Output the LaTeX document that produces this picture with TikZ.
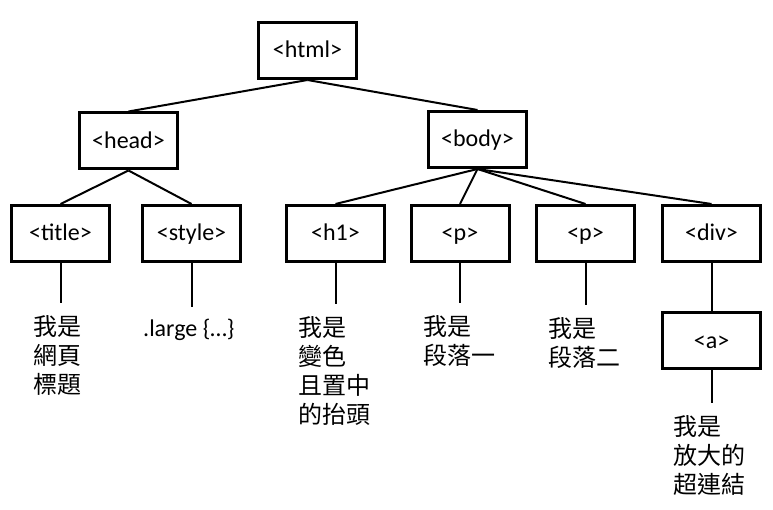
\documentclass[tikz,border=0pt]{standalone}
\usepackage{fontspec}
\setmainfont{Carlito}
\newfontfamily\cjk{Noto Sans CJK TC}
\begin{document}
\begin{tikzpicture}[x=1pt, y=-1pt,
    tag/.style={draw, line width=3pt, minimum width=98pt, minimum height=56pt,
                inner sep=0pt, text height=18pt, text depth=3pt,
                font=\fontsize{24}{29}\selectfont},
    leaf/.style={anchor=north west, align=left, inner xsep=0pt, inner ysep=12pt,
                 font=\cjk\fontsize{24}{29}\selectfont},
    link/.style={line width=2pt}]
  \useasboundingbox (0,0) rectangle (773,510);
  \node[tag] (html) at (307.5,50.5) {<html>};
  \node[tag] (head) at (128.5,141) {<head>};
  \node[tag] (body) at (477.5,139.5) {<body>};
  \node[tag] (title) at (60.5,233.5) {<title>};
  \node[tag] (css) at (191.5,233.5) {<style>};
  \node[tag] (h1) at (335.5,233.5) {<h1>};
  \node[tag] (p1) at (460,233.5) {<p>};
  \node[tag] (p2) at (585.5,233.5) {<p>};
  \node[tag] (div) at (711.5,233.5) {<div>};
  \node[tag] (a) at (711.5,340.5) {<a>};
  \node[leaf] (titletxt) at (33,303) {我是\\網頁\\標題};
  \node[leaf, font=\fontsize{24}{29}\selectfont] (csstxt) at (143,307) {.large \{…\}};
  \node[leaf] (h1txt) at (298,304) {我是\\變色\\且置中\\的抬頭};
  \node[leaf] (p1txt) at (423,303) {我是\\段落一};
  \node[leaf] (p2txt) at (548,305) {我是\\段落二};
  \node[leaf] (atxt) at (673,403) {我是\\放大的\\超連結};
  \draw[link] (html.south) -- (head.north);
  \draw[link] (html.south) -- (body.north);
  \draw[link] (head.south) -- (title.north);
  \draw[link] (head.south) -- (css.north);
  \draw[link] (body.south) -- (h1.north);
  \draw[link] (body.south) -- (p1.north);
  \draw[link] (body.south) -- (p2.north);
  \draw[link] (body.south) -- (div.north);
  \draw[link] (div.south) -- (a.north);
  \draw[link] (title.south) -- (title.south |- titletxt.north);
  \draw[link] (css.south) -- (css.south |- csstxt.north);
  \draw[link] (h1.south) -- (h1.south |- h1txt.north);
  \draw[link] (p1.south) -- (p1.south |- p1txt.north);
  \draw[link] (p2.south) -- (p2.south |- p2txt.north);
  \draw[link] (a.south) -- (a.south |- atxt.north);
\end{tikzpicture}
\end{document}
